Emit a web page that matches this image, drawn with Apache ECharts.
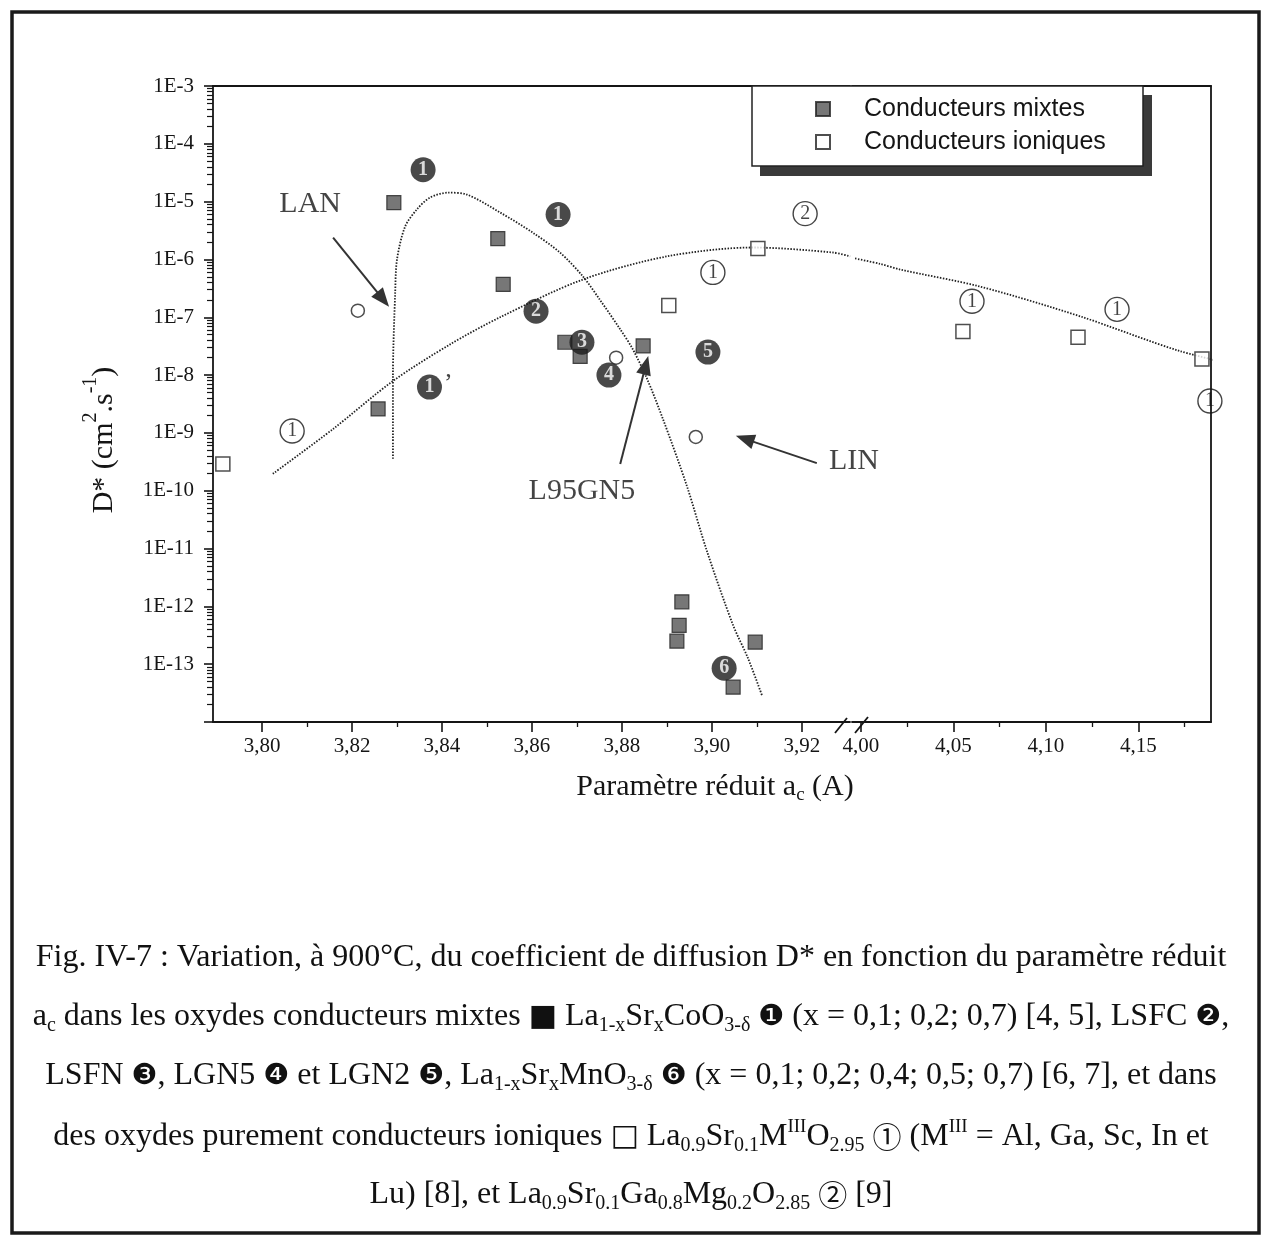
<!DOCTYPE html>
<html><head><meta charset="utf-8">
<script src="https://cdn.jsdelivr.net/npm/echarts@6/dist/echarts.min.js"></script>
<style>html,body{margin:0;padding:0;background:#fff}#c{width:1262px;height:1237px}</style>
</head><body><div id="c"></div>
<script>
// ---------------- data ----------------
// Conducteurs mixtes (filled squares), a_c (A) vs D* (cm2/s)
const mixedLeft = [[3.8293,9.6e-6],[3.8524,2.3e-6],[3.8536,3.7e-7],[3.8673,3.7e-8],[3.8707,2.1e-8],[3.8847,3.2e-8],[3.8258,2.6e-9],[3.8933,1.2e-12],[3.8927,4.7e-13],[3.8922,2.5e-13],[3.9096,2.4e-13],[3.9047,4.0e-14]];
// Conducteurs ioniques (open squares)
const ionicLeft = [[3.7913,2.9e-10],[3.8904,1.6e-7],[3.9102,1.55e-6]];
const ionicRight = [[4.0551,5.7e-8],[4.1173,4.5e-8],[4.1843,1.9e-8]];
// open circles (LAN, L95GN5, LIN)
const openCircles = [[3.8213,1.3e-7],[3.8787,2.0e-8],[3.8964,8.5e-10]];
// dotted guide curves
const curveA = [[3.8291,3.56e-10],[3.8291,9.6e-9],[3.8296,2.7e-7],[3.8300,1.0e-6],[3.8318,3.7e-6],[3.8344,7.3e-6],[3.8373,1.17e-5],[3.8413,1.43e-5],[3.8456,1.32e-5],[3.8529,6.5e-6],[3.8602,2.9e-6],[3.8662,1.32e-6],[3.8713,5.1e-7],[3.8751,2.0e-7],[3.8796,6.2e-8],[3.8824,2.8e-8],[3.8856,8.5e-9],[3.8891,1.74e-9],[3.8944,1.22e-10],[3.8989,8.9e-12],[3.9047,4.7e-13],[3.9080,1.27e-13],[3.9111,2.9e-14]];
const curveBLeft = [[3.8024,1.96e-10],[3.8158,1.17e-9],[3.8291,7.9e-9],[3.8418,3.4e-8],[3.8529,1.0e-7],[3.8713,4.5e-7],[3.8900,1.13e-6],[3.9091,1.61e-6],[3.9269,1.32e-6],[3.9307,1.13e-6]];
const curveBRight = [[3.9968,1.04e-6],[4.0103,8.4e-7],[4.0211,6.7e-7],[4.0643,3.4e-7],[4.1184,1.04e-7],[4.1724,2.6e-8],[4.2086,1.37e-8]];
// tick values
const xMajorLeft = [3.80,3.82,3.84,3.86,3.88,3.90,3.92];
const xMinorLeft = [3.81,3.83,3.85,3.87,3.89,3.91];
const xMajorRight = [4.00,4.05,4.10,4.15];
const xMinorRight = [4.025,4.075,4.125,4.175];
const yMinExp = -14, yMaxExp = -3;
const yMinorMult = [2,3,4,5,6,7,8,9];
// annotations: [x, y, kind, text]
const annotLeft = [
  [3.8358,3.56e-5,'f','1'],[3.8658,5.97e-6,'f','1'],[3.8609,1.27e-7,'f','2'],[3.8711,3.7e-8,'f','3'],
  [3.8771,1.0e-8,'f','4'],[3.8991,2.5e-8,'f','5'],[3.9027,8.5e-14,'f','6'],[3.8384,6.2e-9,'fp','1'],
  [3.8067,1.08e-9,'o','1'],[3.9002,5.97e-7,'o','1'],[3.9207,6.2e-6,'o','2'],
  [3.8107,9.2e-6,'t','LAN'],[3.8711,1.0e-10,'t','L95GN5'],[3.93156,3.3e-10,'t','LIN']
];
const annotRight = [[4.06,1.89e-7,'o','1'],[4.1384,1.37e-7,'o','1'],[4.1886,3.56e-9,'o','1']];
// arrows: [[x1,y1],[x2,y2]]
const arrows = [[[3.8158,2.39e-6],[3.8269,2.04e-7]],[[3.8796,2.9e-10],[3.8853,1.49e-8]],[[3.9233,3.0e-10],[3.9073,7.9e-10]]];
const legendNames = ['Conducteurs mixtes','Conducteurs ioniques'];

// ---------------- chart ----------------
const SERIF = "'Liberation Serif','Times New Roman',serif";
const SANS = "'Liberation Sans',Arial,sans-serif";
const INK = '#151515';
const chart = echarts.init(document.getElementById('c'), null, {renderer:'canvas'});

const richAnn = {
  f:{width:25,height:25,borderRadius:12.5,backgroundColor:'#1c1c1c',color:'#fff',fontSize:20,fontWeight:'bold',fontFamily:SERIF,align:'center',lineHeight:25},
  o:{width:24,height:24,borderRadius:12,borderColor:INK,borderWidth:1.4,color:INK,fontSize:20,fontFamily:SERIF,align:'center',lineHeight:24},
  p:{fontSize:26,fontFamily:SERIF,color:INK,padding:[0,0,6,2]},
  t:{fontSize:30,fontFamily:SERIF,color:INK}
};
function annFmt(p){
  const k = p.data[2], t = p.data[3];
  if (k==='f') return '{f|'+t+'}';
  if (k==='fp') return '{f|'+t+'}{p|’}';
  if (k==='o') return '{o|'+t+'}';
  return '{t|'+t+'}';
}
const lineStyleDot = {type:[1.5,1.5], width:1.8, color:'#222'};
const fmtX = v => v.toFixed(2).replace('.',',');

// minor tick positions of the log axis, expressed in decades for a decorative overlay axis
const yMinorDecades = [];
for (let e = yMinExp; e < yMaxExp; e++) yMinorMult.forEach(m => yMinorDecades.push(e + Math.log10(m)));

const yAxisLeft = {
  type:'log', gridIndex:0, logBase:10, min:Math.pow(10,yMinExp), max:Math.pow(10,yMaxExp), interval:1,
  axisLine:{show:true, onZero:false, lineStyle:{color:INK,width:1.8}},
  axisTick:{show:true, length:9, lineStyle:{color:INK,width:1.6}},
  splitLine:{show:false},
  axisLabel:{margin:19, fontFamily:SERIF, fontSize:21, color:INK,
    formatter:v=>{const e=Math.round(Math.log10(v)); return e<=yMinExp?'':'1E'+e;}}
};
const yAxisLeftMinor = {
  type:'value', gridIndex:0, min:yMinExp, max:yMaxExp, position:'left',
  axisLine:{show:false, onZero:false},
  axisTick:{show:true, length:6, customValues:yMinorDecades, lineStyle:{color:INK,width:1.2}},
  axisLabel:{show:false}, splitLine:{show:false}
};
const yAxisRight = {type:'log', gridIndex:1, logBase:10, min:Math.pow(10,yMinExp), max:Math.pow(10,yMaxExp), interval:1, position:'right',
  axisLine:{show:true,onZero:false,lineStyle:{color:INK,width:1.8}}, axisTick:{show:false}, axisLabel:{show:false}, splitLine:{show:false}};

function xAx(grid, min, max, major, minor, kind){
  if (kind==='major') return {type:'value', gridIndex:grid, min, max, position:'bottom',
    axisLine:{show:true,onZero:false,lineStyle:{color:INK,width:1.8}},
    axisTick:{show:true,length:10,customValues:major,lineStyle:{color:INK,width:1.6}},
    axisLabel:{show:true,customValues:major,formatter:fmtX,margin:14,fontFamily:SERIF,fontSize:21,color:INK},
    splitLine:{show:false}};
  if (kind==='minor') return {type:'value', gridIndex:grid, min, max, position:'bottom',
    axisLine:{show:false,onZero:false}, axisTick:{show:true,length:5,customValues:minor,lineStyle:{color:INK,width:1.3}},
    axisLabel:{show:false}, splitLine:{show:false}};
  return {type:'value', gridIndex:grid, min, max, position:'top',
    axisLine:{show:true,onZero:false,lineStyle:{color:INK,width:1.8}}, axisTick:{show:false}, axisLabel:{show:false}, splitLine:{show:false}};
}
const LMIN=3.78911, LMAX=3.93067, RMIN=3.99514, RMAX=4.18919;

const capBase = {fontSize:32, fontFamily:"'Liberation Serif','DejaVu Sans','Noto Sans CJK SC',serif", fill:'#111', lineHeight:38};
const capRich = {
  sb:{fontSize:20, fontFamily:SERIF, lineHeight:20, verticalAlign:'bottom', color:'#111'},
  sp:{fontSize:19, fontFamily:SERIF, lineHeight:19, verticalAlign:'top', color:'#111'},
  d:{fontSize:29, fontFamily:"'DejaVu Sans','Noto Sans CJK SC',sans-serif", color:'#111', lineHeight:38},
  c:{fontSize:29, fontFamily:"'Noto Sans CJK SC','DejaVu Sans',sans-serif", color:'#111', lineHeight:38},
  sq:{fontSize:30, fontFamily:"'DejaVu Sans',sans-serif", color:'#333', lineHeight:38}
};
const captionLines = [
  'Fig. IV-7 : Variation, à 900°C, du coefficient de diffusion D* en fonction du paramètre réduit',
  'a{sb|c} dans les oxydes conducteurs mixtes {sq|■} La{sb|1-x}Sr{sb|x}CoO{sb|3-δ} {d|❶} (x = 0,1; 0,2; 0,7) [4, 5], LSFC {d|❷},',
  'LSFN {d|❸}, LGN5 {d|❹} et LGN2 {d|❺}, La{sb|1-x}Sr{sb|x}MnO{sb|3-δ} {d|❻} (x = 0,1; 0,2; 0,4; 0,5; 0,7) [6, 7], et dans',
  'des oxydes purement conducteurs ioniques {sq|□} La{sb|0.9}Sr{sb|0.1}M{sp|III}O{sb|2.95} {c|①} (M{sp|III} = Al, Ga, Sc, In et',
  'Lu) [8], et La{sb|0.9}Sr{sb|0.1}Ga{sb|0.8}Mg{sb|0.2}O{sb|2.85} {c|②} [9]'
];
const captionY = [958, 1017, 1076, 1137, 1195];

const graphics = [
  {type:'rect', shape:{x:12,y:12,width:1247,height:1221}, style:{fill:'none',stroke:'#1a1a1a',lineWidth:3.5}, z:0, silent:true},
  {type:'rect', shape:{x:760,y:95,width:392,height:81}, style:{fill:'#3a3a3a'}, z:1, silent:true},
  {type:'rect', shape:{x:752,y:86,width:391,height:80}, style:{fill:'#fff',stroke:'#222',lineWidth:1.5}, z:1, silent:true},
  {type:'text', x:104, y:440, rotation:Math.PI/2, style:{text:'D* (cm{sp|2}.s{sp|-1})', fontSize:30, fontFamily:SERIF, fill:INK, lineHeight:46, align:'center', verticalAlign:'middle', textAlign:'center', textVerticalAlign:'middle', rich:{sp:{fontSize:20,fontFamily:SERIF,lineHeight:20,verticalAlign:'top',color:INK}}}, silent:true},
  {type:'text', x:715, y:787, style:{text:'Paramètre réduit a{sb|c} (A)', fontSize:30, fontFamily:SERIF, fill:INK, lineHeight:36, align:'center', verticalAlign:'middle', textAlign:'center', textVerticalAlign:'middle', rich:{sb:{fontSize:19,fontFamily:SERIF,lineHeight:19,verticalAlign:'bottom',color:INK}}}, silent:true},
  {type:'line', shape:{x1:835,y1:733,x2:847,y2:718}, style:{stroke:INK,lineWidth:1.8}, silent:true},
  {type:'line', shape:{x1:855,y1:733,x2:868,y2:717}, style:{stroke:INK,lineWidth:1.8}, silent:true}
];
captionLines.forEach((t,i)=>graphics.push({type:'text', x:631, y:captionY[i],
  style:Object.assign({}, capBase, {text:t, rich:capRich, align:'center', verticalAlign:'middle', textAlign:'center', textVerticalAlign:'middle'}), silent:true}));

const option = {
  animation:false,
  backgroundColor:'#fff',
  grid:[
    {left:213, right:1262-850, top:86, bottom:1237-722},
    {left:852, right:1262-1211, top:86, bottom:1237-722}
  ],
  xAxis:[
    xAx(0,LMIN,LMAX,xMajorLeft,xMinorLeft,'major'),
    xAx(0,LMIN,LMAX,xMajorLeft,xMinorLeft,'minor'),
    xAx(0,LMIN,LMAX,null,null,'top'),
    xAx(1,RMIN,RMAX,xMajorRight,xMinorRight,'major'),
    xAx(1,RMIN,RMAX,xMajorRight,xMinorRight,'minor'),
    xAx(1,RMIN,RMAX,null,null,'top')
  ],
  yAxis:[yAxisLeft, yAxisLeftMinor, yAxisRight],
  legend:{
    data:legendNames, orient:'vertical', left:815, top:96, selectedMode:false,
    itemWidth:14, itemHeight:14, itemGap:7, padding:0, icon:'rect',
    backgroundColor:'transparent', borderWidth:0, z:5,
    textStyle:{fontFamily:SANS, fontSize:25, color:INK, lineHeight:26, padding:[0,0,0,29]}
  },
  graphic:{elements:graphics},
  series:[
    {type:'line', xAxisIndex:0, yAxisIndex:0, data:curveA, showSymbol:false, smooth:0.3, clip:false, lineStyle:lineStyleDot, silent:true, z:2},
    {type:'line', xAxisIndex:0, yAxisIndex:0, data:curveBLeft, showSymbol:false, smooth:0.3, clip:false, lineStyle:lineStyleDot, silent:true, z:2},
    {type:'line', xAxisIndex:3, yAxisIndex:2, data:curveBRight, showSymbol:false, smooth:0.3, clip:false, lineStyle:lineStyleDot, silent:true, z:2},
    {name:legendNames[0], type:'scatter', xAxisIndex:0, yAxisIndex:0, data:mixedLeft, symbol:'rect', symbolSize:14,
      itemStyle:{color:'#555', borderColor:'#222', borderWidth:1.2}, z:4},
    {name:legendNames[1], type:'scatter', xAxisIndex:0, yAxisIndex:0, data:ionicLeft, symbol:'rect', symbolSize:14,
      itemStyle:{color:'#fff', borderColor:'#222', borderWidth:1.5}, z:4},
    {name:legendNames[1], type:'scatter', xAxisIndex:3, yAxisIndex:2, data:ionicRight, symbol:'rect', symbolSize:14,
      itemStyle:{color:'#fff', borderColor:'#222', borderWidth:1.5}, z:4},
    {name:'circles', type:'scatter', xAxisIndex:0, yAxisIndex:0, data:openCircles, symbol:'circle', symbolSize:13,
      itemStyle:{color:'#fff', borderColor:'#222', borderWidth:1.5}, z:4},
    {type:'scatter', xAxisIndex:0, yAxisIndex:0, data:annotLeft, symbolSize:1, clip:false, itemStyle:{color:'rgba(0,0,0,0)'}, silent:true, z:6,
      encode:{x:0,y:1},
      label:{show:true, position:'inside', formatter:annFmt, rich:richAnn}},
    {type:'scatter', xAxisIndex:3, yAxisIndex:2, data:annotRight, symbolSize:1, clip:false, itemStyle:{color:'rgba(0,0,0,0)'}, silent:true, z:6,
      encode:{x:0,y:1},
      label:{show:true, position:'inside', formatter:annFmt, rich:richAnn}},
    {type:'line', xAxisIndex:0, yAxisIndex:0, data:[], silent:true, z:3,
      markLine:{silent:true, animation:false, symbol:['none','triangle'], symbolSize:[15,19],
        lineStyle:{color:'#333', width:2, type:'solid'}, label:{show:false},
        data:arrows.map(a=>[{coord:a[0]},{coord:a[1]}])}}
  ]
};
chart.setOption(option);
</script></body></html>
